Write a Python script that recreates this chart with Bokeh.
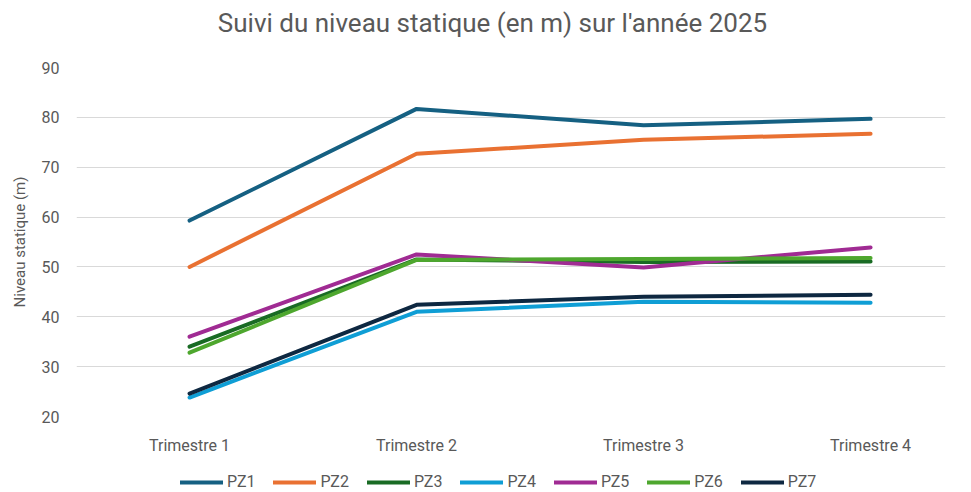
from bokeh.plotting import figure
from bokeh.models import Legend, LegendItem, FixedTicker, Range1d, Label
from bokeh.layouts import column
from bokeh.embed import file_html
from bokeh.resources import INLINE

title_text = "Suivi du niveau statique (en m) sur l'année 2025"
categories = ["Trimestre 1", "Trimestre 2", "Trimestre 3", "Trimestre 4"]
series_names = ["PZ1", "PZ2", "PZ3", "PZ4", "PZ5", "PZ6", "PZ7"]
pz1 = [59.3, 81.7, 78.4, 79.7]
pz2 = [50.0, 72.7, 75.5, 76.7]
pz3 = [34.0, 51.5, 51.0, 51.1]
pz4 = [23.8, 41.0, 43.0, 42.8]
pz5 = [36.0, 52.5, 49.9, 53.9]
pz6 = [32.8, 51.4, 51.6, 51.8]
pz7 = [24.6, 42.4, 44.0, 44.4]
series_values = [pz1, pz2, pz3, pz4, pz5, pz6, pz7]
colors = ["#156082", "#E97132", "#196B24", "#0F9ED5", "#A02B93", "#4EA72E", "#0E2841"]
y_ticks = [20, 30, 40, 50, 60, 70, 80, 90]

FONT = "Roboto"
GREY = "#595959"
TOTAL_W = 963

# Title strip
tf = figure(frame_width=TOTAL_W, frame_height=40, output_backend="svg", toolbar_location=None,
            x_axis_type=None, y_axis_type=None, x_range=Range1d(0, TOTAL_W), y_range=Range1d(0, 40),
            min_border=0, min_border_left=0, min_border_right=0, min_border_top=0, min_border_bottom=0)
tf.outline_line_color = None
tf.grid.visible = False
tf.add_layout(Label(x=416, y=18, text=title_text, text_align="center", text_baseline="middle",
                    text_font=FONT, text_font_size="26px", text_color=GREY))

# Main chart
p = figure(frame_width=869, frame_height=349, output_backend="svg", toolbar_location=None,
           x_range=Range1d(-0.498, 3.33), y_range=Range1d(20, 90),
           min_border_left=76, min_border_right=18, min_border_top=27, min_border_bottom=46)
p.outline_line_color = None
p.background_fill_color = "white"
p.border_fill_color = "white"

xs = list(range(len(categories)))
for name, vals, c in zip(series_names, series_values, colors):
    p.line(xs, vals, line_color=c, line_width=4, line_cap="round", line_join="round")

p.xaxis.ticker = FixedTicker(ticks=xs)
p.xaxis.major_label_overrides = {i: c for i, c in enumerate(categories)}
p.yaxis.ticker = FixedTicker(ticks=y_ticks)
for ax in (p.xaxis, p.yaxis):
    ax.axis_line_color = None
    ax.major_tick_line_color = None
    ax.minor_tick_line_color = None
    ax.major_label_text_font = FONT
    ax.major_label_text_color = GREY
    ax.major_label_text_font_size = "16px"
p.xaxis.major_label_standoff = 13
p.yaxis.major_label_standoff = 11
p.yaxis.axis_label = "Niveau statique (m)"
p.yaxis.axis_label_text_font = FONT
p.yaxis.axis_label_text_font_size = "15px"
p.yaxis.axis_label_text_font_style = "normal"
p.yaxis.axis_label_text_color = GREY
p.yaxis.axis_label_standoff = 10

p.xgrid.grid_line_color = None
p.ygrid.grid_line_color = "#d9d9d9"
p.ygrid.grid_line_width = 1

# Legend strip below the chart (its line renderers lie outside its visible range)
lg = figure(frame_width=TOTAL_W, frame_height=30, output_backend="svg", toolbar_location=None,
            x_axis_type=None, y_axis_type=None, x_range=Range1d(-0.5, 3.5), y_range=Range1d(0, 1),
            min_border=0, min_border_left=0, min_border_right=0, min_border_top=0, min_border_bottom=0)
lg.outline_line_color = None
lg.grid.visible = False
items = []
for name, vals, c in zip(series_names, series_values, colors):
    r = lg.line(xs, vals, line_color=c, line_width=4, line_cap="round")
    items.append(LegendItem(label=name, renderers=[r]))
legend = Legend(items=items, orientation="horizontal", location=(180, 1),
                glyph_width=43, glyph_height=14, label_standoff=4, spacing=18,
                padding=0, margin=0, border_line_color=None, background_fill_alpha=0,
                label_text_font=FONT, label_text_font_size="16px", label_text_color=GREY)
lg.add_layout(legend, "center")

layout = column(tf, p, lg, spacing=0)
open("out.html", "w").write(file_html(layout, INLINE))
